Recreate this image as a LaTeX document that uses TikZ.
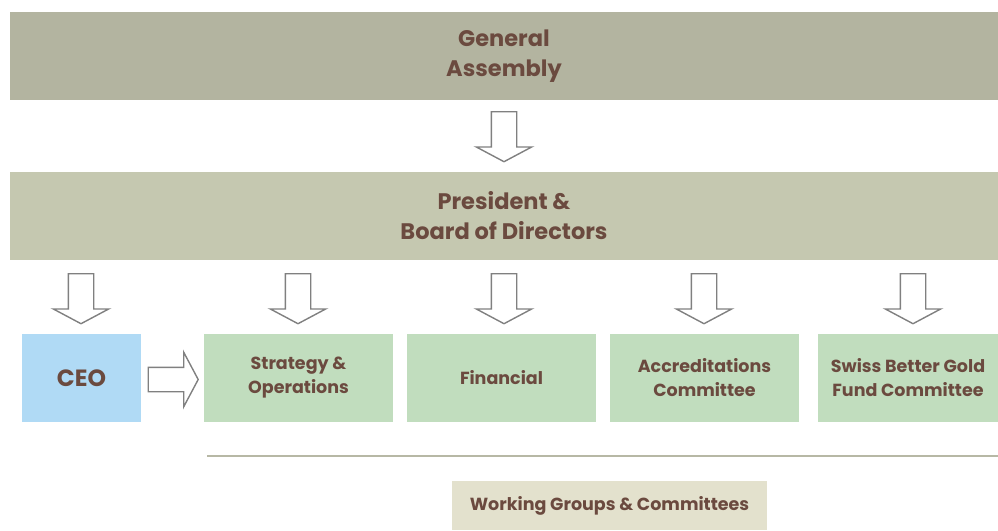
\documentclass[tikz,border=0pt]{standalone}
\usepackage{fontspec}
\setmainfont{Poppins}
\usepackage{tikz}
\usetikzlibrary{shapes.arrows,positioning}

\definecolor{txtbrown}{HTML}{6B4A3F}
\definecolor{topolive}{HTML}{B3B4A0}
\definecolor{midolive}{HTML}{C5C8B0}
\definecolor{ceoblue}{HTML}{B0DAF5}
\definecolor{comgreen}{HTML}{C1DDBE}
\definecolor{wgbeige}{HTML}{E3E1CD}
\definecolor{rulegrey}{HTML}{B7B8A5}
\definecolor{arrgrey}{HTML}{808080}

\tikzset{
  box/.style={inner sep=0pt, align=center, text=txtbrown, font=\bfseries},
  bigbox/.style={box, minimum height=88pt, font=\fontsize{22.5}{30}\selectfont\bfseries},
  unitbox/.style={box, minimum height=88pt, font=\fontsize{17.5}{24}\selectfont\bfseries},
  blockarrow/.style={single arrow, draw=arrgrey, fill=white, line width=1.4pt,
    inner xsep=0pt, inner ysep=12pt, minimum height=50pt, minimum width=54pt,
    single arrow head extend=15pt, single arrow tip angle=124,
    rotate=-90, anchor=tail},
}

\begin{document}
\begin{tikzpicture}[x=1pt,y=-1pt]
\useasboundingbox (0,0) rectangle (998,530);

\node[bigbox, fill=topolive, minimum width=988pt] (GA) at (504,56) {General\\Assembly};
\node[bigbox, fill=midolive, minimum width=988pt] (BOD) at (504,216) {President \&\\Board of Directors};

\node[box, fill=ceoblue, minimum width=119pt, minimum height=88pt,
  font=\fontsize{23.5}{24}\selectfont\bfseries] (CEO) at (81.5,378) {CEO};
\node[unitbox, fill=comgreen, minimum width=189pt] (SO) at (298.5,378) {Strategy \&\\Operations};
\node[unitbox, fill=comgreen, minimum width=189pt] (FIN) at (501.5,378) {Financial};
\node[unitbox, fill=comgreen, minimum width=189pt] (ACC) at (704.5,378) {Accreditations\\Committee};
\node[unitbox, fill=comgreen, minimum width=180pt] (SBG) at (908,378) {Swiss Better Gold\\Fund Committee};

\coordinate (RL) at (207,456);
\coordinate (RR) at (998,456);
\draw[rulegrey, line width=1.5pt] (RL) -- (RR);

\node[box, fill=wgbeige, minimum width=315pt, minimum height=49pt,
  font=\fontsize{17.5}{20}\selectfont\bfseries] (WG) at (609.5,505.5) {Working Groups \& Committees};

\node[blockarrow] (AGB) at (504,111) {};
\node[blockarrow] (ACEO) at (81,273) {};
\node[blockarrow] (ASO) at (298,273) {};
\node[blockarrow] (AFIN) at (504,273) {};
\node[blockarrow] (AACC) at (704,273) {};
\node[blockarrow] (ASBG) at (913,273) {};
\node[blockarrow, rotate=90, inner ysep=11.5pt, minimum height=50pt] (ACS) at (147.5,379.5) {};

\end{tikzpicture}
\end{document}
